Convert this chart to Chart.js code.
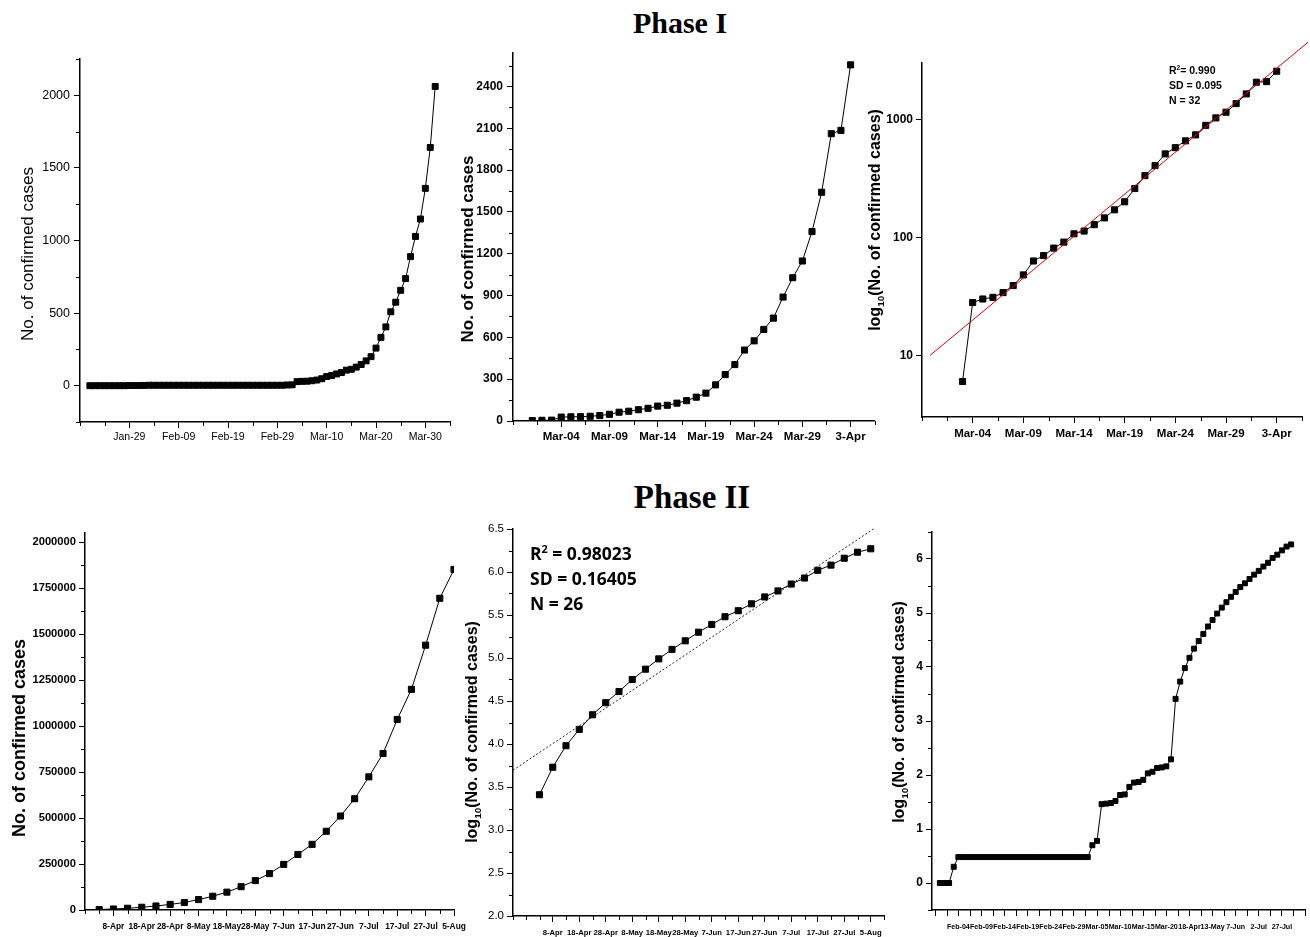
<!DOCTYPE html>
<html lang="en">
<head>
<meta charset="UTF-8">
<title>Confirmed cases - Phase I and Phase II</title>
<script src="https://cdn.jsdelivr.net/npm/chart.js"></script>
<style>
  body { margin: 0; background: #fff; }
  #page { position: relative; width: 1310px; height: 937px; overflow: hidden; background: #fff; }
  #page canvas { position: absolute; }
  .phase {
    position: absolute; width: 200px; text-align: center;
    font-family: 'Liberation Serif', 'Times New Roman', serif;
    font-weight: bold; white-space: nowrap;
  }
</style>
</head>
<body>
<div id="page">
  <div class="phase" style="left:580px; top:8px; font-size:30px; line-height:30px;">Phase I</div>
  <div class="phase" style="left:592px; top:481px; font-size:33px; line-height:33px;">Phase II</div>
  <canvas id="p1" width="458" height="415" style="left:0px; top:45px;"></canvas>
  <canvas id="p2" width="425" height="420" style="left:455px; top:40px;"></canvas>
  <canvas id="p3" width="450" height="432" style="left:860px; top:28px;"></canvas>
  <canvas id="p4" width="470" height="422" style="left:0px; top:515px;"></canvas>
  <canvas id="p5" width="442" height="422" style="left:458px; top:515px;"></canvas>
  <canvas id="p6" width="430" height="422" style="left:880px; top:515px;"></canvas>
</div>
<script>
// ---- data ----

// Phase I, daily totals 22 Jan .. 1 Apr (top-left panel), first point sits on day 2 of the axis
const janFirstDay = 2;
const janCases = [
  0, 0, 0, 0, 0, 0, 0, 0, 1, 1, 1, 2,
  3, 3, 3, 3, 3, 3, 3, 3, 3, 3, 3, 3, 3, 3, 3, 3, 3, 3, 3, 3, 3, 3, 3, 3, 3, 3, 3, 3,
  5, 6, 28, 30, 31, 34, 39, 48, 63, 70, 81, 91, 107, 113, 128, 146, 171, 200,
  259, 333, 405, 509, 575, 657, 738, 889, 1028, 1148, 1359, 1641, 2061
];
const janTicks = [10, 20, 30, 40, 50, 60, 70];
const janTickLabels = ['Jan-29', 'Feb-09', 'Feb-19', 'Feb-29', 'Mar-10', 'Mar-20', 'Mar-30'];

// Phase I, daily totals 1 Mar .. 3 Apr (top-middle); the log panel uses 3 Mar .. 3 Apr
const marFirstDay = -2;
const marCases = [
  3, 5, 6, 28, 30, 31, 34, 39, 48, 63, 70, 81, 91, 107, 113, 128, 146, 171, 200,
  259, 333, 405, 509, 575, 657, 738, 889, 1028, 1148, 1359, 1641, 2061, 2085, 2555
];
const marTicks = [1, 6, 11, 16, 21, 26, 31];
const marTickLabels = ['Mar-04', 'Mar-09', 'Mar-14', 'Mar-19', 'Mar-24', 'Mar-29', '3-Apr'];
const logSkip = 2;                    // log panel starts on 3 Mar (N = 32)
const phase1FitX = [-3.2, 34.1];      // red fitted line ends
const phase1FitY = [10, 4500];

// Phase II, every 5 days 3 Apr .. 5 Aug
const aprDays = [5, 10, 15, 20, 25, 30, 35, 40, 45, 50, 55, 60, 65, 70, 75, 80, 85, 90, 95, 100, 105, 110, 115, 120, 125, 130];
const aprCases = [
  2600, 5400, 9400, 14900, 21800, 30400, 40800, 56800, 74800, 97000, 126800, 160000, 198000,
  248000, 302000, 357000, 428000, 511000, 605000, 724000, 851000, 1036000, 1200000, 1440000, 1695000, 1852000
];
const aprLog = [
  3.41, 3.73, 3.98, 4.17, 4.34, 4.48, 4.61, 4.75, 4.87, 4.99, 5.10, 5.20, 5.30,
  5.39, 5.48, 5.55, 5.63, 5.71, 5.78, 5.86, 5.93, 6.02, 6.08, 6.16, 6.23, 6.27
];
const aprTicks = [10, 20, 30, 40, 50, 60, 70, 80, 90, 100, 110, 120, 130];
const aprTickLabels = ['8-Apr', '18-Apr', '28-Apr', '8-May', '18-May', '28-May', '7-Jun', '17-Jun', '27-Jun', '7-Jul', '17-Jul', '27-Jul', '5-Aug'];
const phase2FitX = [-5, 131];         // dotted fitted line ends
const phase2FitY = [3.695, 6.5];

// whole period on one log axis (bottom-right), one point per row
const allLog = [
  0, 0, 0, 0.30,
  0.48, 0.48, 0.48, 0.48, 0.48, 0.48, 0.48, 0.48, 0.48, 0.48, 0.48, 0.48, 0.48, 0.48, 0.48,
  0.48, 0.48, 0.48, 0.48, 0.48, 0.48, 0.48, 0.48, 0.48, 0.48, 0.48, 0.48, 0.48, 0.48,
  0.70, 0.78,
  1.46, 1.47, 1.48, 1.52, 1.63, 1.64, 1.78, 1.86, 1.87, 1.91, 2.03, 2.06, 2.13, 2.14, 2.16, 2.29,
  3.41, 3.73, 3.98, 4.17, 4.34, 4.48, 4.61, 4.75, 4.87, 4.99, 5.10, 5.20, 5.30,
  5.39, 5.48, 5.55, 5.63, 5.71, 5.78, 5.86, 5.93, 6.02, 6.08, 6.16, 6.23, 6.27
];
const allTicks = [4, 9, 14, 19, 24, 29, 34, 39, 44, 49, 54, 59, 64, 69, 74];
const allTickLabels = ['Feb-04', 'Feb-09', 'Feb-14', 'Feb-19', 'Feb-24', 'Feb-29', 'Mar-05', 'Mar-10',
  'Mar-15', 'Mar-20', '18-Apr', '13-May', '7-Jun', '2-Jul', '27-Jul'];

// ---- helpers ----
// no narrow face installed, so tick fonts are sized down to the narrow widths
const SANS = "'Liberation Sans', Arial, sans-serif";

function steps(from, to, step) {
  const out = [];
  for (let k = 0; from + k * step <= to + 1e-9; k++) out.push(+(from + k * step).toFixed(6));
  return out;
}
function minus(list, majors) {
  return list.filter(v => !majors.some(m => Math.abs(m - v) < 1e-6));
}
function points(xs, ys) {
  return ys.map((y, i) => ({ x: xs[i], y: y }));
}
function seq(start, n) {
  const out = [];
  for (let i = 0; i < n; i++) out.push(start + i);
  return out;
}

// extra drawing per canvas: minor ticks and rich text (sub/superscripts)
const extras = {};

function drawRich(ctx, t, ox, oy) {
  const weight = t.bold ? 'bold ' : '';
  const fontFor = p => weight + ((p.sup || p.sub) ? t.size * 0.62 : t.size) + 'px ' + t.family;
  let total = 0;
  t.parts.forEach(p => { ctx.font = fontFor(p); total += ctx.measureText(p.t).width; });
  ctx.save();
  ctx.translate(t.x - ox, t.y - oy);
  if (t.rotate) ctx.rotate(-Math.PI / 2);
  ctx.fillStyle = '#000';
  ctx.textBaseline = 'alphabetic';
  let x = t.center ? -total / 2 : 0;
  t.parts.forEach(p => {
    ctx.font = fontFor(p);
    const dy = p.sup ? -t.size * 0.4 : (p.sub ? t.size * 0.22 : 0);
    ctx.fillText(p.t, x, dy);
    x += ctx.measureText(p.t).width;
  });
  ctx.restore();
}

Chart.register({
  id: 'originExtras',
  afterDraw(chart) {
    const ex = extras[chart.canvas.id];
    if (!ex) return;
    const ctx = chart.ctx, area = chart.chartArea;
    ctx.save();
    ctx.strokeStyle = '#000';
    ctx.lineWidth = 1;
    ctx.beginPath();
    ex.minorX.forEach(v => {
      const px = Math.round(chart.scales.x.getPixelForValue(v)) + 0.5;
      ctx.moveTo(px, area.bottom);
      ctx.lineTo(px, area.bottom + ex.minorLenX);
    });
    ex.minorY.forEach(v => {
      const py = Math.round(chart.scales.y.getPixelForValue(v)) + 0.5;
      ctx.moveTo(area.left, py);
      ctx.lineTo(area.left - ex.minorLenY, py);
    });
    ctx.stroke();
    ctx.restore();
    ex.texts.forEach(t => drawRich(ctx, t, chart.canvas.offsetLeft, chart.canvas.offsetTop));
  }
});

function axis(a, dir) {
  return {
    type: a.type || 'linear',
    position: dir === 'x' ? 'bottom' : 'left',
    min: a.min, max: a.max, bounds: 'data',
    grid: { drawOnChartArea: false, drawTicks: true, tickLength: 6, tickWidth: 1, tickColor: '#000', color: '#000' },
    border: { display: true, color: '#000', width: 1.5 },
    ticks: {
      autoSkip: false, maxRotation: 0, minRotation: 0, padding: a.pad, color: '#000', font: a.font,
      callback: (v, i) => a.labels[i]
    },
    afterBuildTicks: s => { s.ticks = a.major.map(v => ({ value: v })); },
    afterFit: s => {
      if (dir === 'x') s.height = a.size; else s.width = a.size;
      s.paddingLeft = s.paddingRight = s.paddingTop = s.paddingBottom = 0;
    }
  };
}

function dataLine(pts, r) {
  return {
    data: pts, borderColor: '#000', borderWidth: 1, tension: 0, fill: false,
    pointStyle: 'rect', pointRadius: r, pointBackgroundColor: '#000',
    pointBorderColor: '#000', pointBorderWidth: 1
  };
}
function fitLine(pts, color, dash) {
  return {
    data: pts, borderColor: color, borderWidth: 1, borderDash: dash, pointRadius: 0,
    tension: 0, fill: false, clip: false
  };
}

function panel(id, cfg) {
  extras[id] = { minorX: cfg.minorX, minorY: cfg.minorY, minorLenX: cfg.minorLenX || 4, minorLenY: cfg.minorLenY || 4, texts: cfg.texts };
  return new Chart(document.getElementById(id), {
    type: 'line',
    data: { datasets: cfg.datasets },
    options: {
      responsive: false, animation: false, events: [],
      layout: { padding: { left: 0, top: cfg.padTop, right: cfg.padRight, bottom: 0 } },
      plugins: { legend: { display: false }, tooltip: { enabled: false }, title: { display: false } },
      scales: { x: axis(cfg.x, 'x'), y: axis(cfg.y, 'y') }
    }
  });
}

function yTitle(x, y, size, bold, withLog) {
  const parts = withLog
    ? [{ t: 'log' }, { t: '10', sub: true }, { t: '(No. of confirmed cases)' }]
    : [{ t: 'No. of confirmed cases' }];
  return { parts: parts, x: x, y: y, size: size, bold: bold, family: SANS, rotate: true, center: true };
}

// ---- panel 1: Phase I linear, from 22 Jan ----
const p1YMajor = steps(0, 2000, 500);
panel('p1', {
  padTop: 14, padRight: 8,
  x: { min: 0, max: 75, major: janTicks, labels: janTickLabels, size: 38, pad: 3,
       font: { family: SANS, size: 10.5 } },
  y: { min: -250, max: 2250, major: p1YMajor, labels: p1YMajor.map(String), size: 80, pad: 4,
       font: { family: SANS, size: 12.5 } },
  minorX: minus(steps(0, 75, 5), janTicks),
  minorY: minus(steps(-250, 2250, 250), p1YMajor),
  texts: [yTitle(33, 254, 17, false, false)],
  datasets: [dataLine(points(seq(janFirstDay, janCases.length), janCases), 4.2)]
});

// ---- panel 2: Phase I linear, March ----
const p2YMajor = steps(0, 2400, 300);
panel('p2', {
  padTop: 13, padRight: 3,
  x: { min: -4, max: 33.5, major: marTicks, labels: marTickLabels, size: 39, pad: 3,
       font: { family: SANS, size: 11.5, weight: 'bold' } },
  y: { min: 0, max: 2640, major: p2YMajor, labels: p2YMajor.map(String), size: 58, pad: 4,
       font: { family: SANS, size: 12, weight: 'bold' } },
  minorX: minus(steps(-4, 33.5, 2.5), marTicks),
  minorY: minus(steps(0, 2550, 150), p2YMajor),
  texts: [yTitle(473, 249, 17, true, false)],
  datasets: [dataLine(points(seq(marFirstDay, marCases.length), marCases), 4.3)]
});

// ---- panel 3: Phase I log axis with fit ----
const p3YMajor = [10, 100, 1000];
const logCases = marCases.slice(logSkip);
const p3Note = (t, y) => ({ parts: t, x: 1169, y: y, size: 10.5, bold: true, family: SANS });
panel('p3', {
  padTop: 35, padRight: 8,
  x: { min: -4, max: 33.5, major: marTicks, labels: marTickLabels, size: 43, pad: 4,
       font: { family: SANS, size: 11.5, weight: 'bold' } },
  y: { type: 'logarithmic', min: 3, max: 3000, major: p3YMajor, labels: p3YMajor.map(String), size: 62, pad: 3,
       font: { family: SANS, size: 12, weight: 'bold' } },
  minorX: minus(steps(-4, 33.5, 2.5), marTicks),
  minorY: [],
  texts: [
    yTitle(880, 220, 16, true, true),
    p3Note([{ t: 'R' }, { t: '2', sup: true }, { t: '= 0.990' }], 74),
    p3Note([{ t: 'SD = 0.095' }], 89),
    p3Note([{ t: 'N = 32' }], 104)
  ],
  datasets: [
    fitLine(points(phase1FitX, phase1FitY), '#e00000', []),
    dataLine(points(seq(marFirstDay + logSkip, logCases.length), logCases), 4.3)
  ]
});

// ---- panel 4: Phase II linear ----
const p4YMajor = steps(0, 2000000, 250000);
panel('p4', {
  padTop: 18, padRight: 16,
  x: { min: 0, max: 130, major: aprTicks, labels: aprTickLabels, size: 27, pad: 6,
       font: { family: SANS, size: 8.4, weight: 'bold' } },
  y: { min: 0, max: 2050000, major: p4YMajor, labels: p4YMajor.map(String), size: 85, pad: 3,
       font: { family: SANS, size: 11.2, weight: 'bold' } },
  minorX: minus(steps(0, 130, 5), aprTicks),
  minorY: minus(steps(0, 2000000, 125000), p4YMajor),
  texts: [yTitle(25, 738, 18, true, false)],
  datasets: [dataLine(points(aprDays, aprCases), 4.3)]
});

// ---- panel 5: Phase II log10 values with fit ----
const p5YMajor = steps(2, 6.5, 0.5);
const p5Note = (t, y) => ({ parts: t, x: 530, y: y, size: 17.5, bold: true, family: "'Open Sans', " + SANS });
panel('p5', {
  padTop: 14, padRight: 16,
  x: { min: -5, max: 135, major: aprTicks, labels: aprTickLabels, size: 21, pad: 6,
       font: { family: SANS, size: 7.7, weight: 'bold' } },
  y: { min: 2, max: 6.5, major: p5YMajor, labels: p5YMajor.map(v => v.toFixed(1)), size: 55, pad: 3,
       font: { family: SANS, size: 11.5 } },
  minorX: minus(steps(-5, 135, 5), aprTicks),
  minorY: minus(steps(2, 6.5, 0.25), p5YMajor),
  texts: [
    yTitle(477, 732, 16, true, true),
    p5Note([{ t: 'R' }, { t: '2', sup: true }, { t: ' = 0.98023' }], 560),
    p5Note([{ t: 'SD = 0.16405' }], 585),
    p5Note([{ t: 'N = 26' }], 610)
  ],
  datasets: [
    fitLine(points(phase2FitX, phase2FitY), '#222', [2, 2]),
    dataLine(points(aprDays, aprLog), 4.3)
  ]
});

// ---- panel 6: whole period, log10 values ----
const p6YMajor = steps(0, 6, 1);
panel('p6', {
  padTop: 17, padRight: 5,
  x: { min: -1.7, max: 79, major: allTicks, labels: allTickLabels, size: 27, pad: 7,
       font: { family: SANS, size: 7.1, weight: 'bold' } },
  y: { min: -0.5, max: 6.5, major: p6YMajor, labels: p6YMajor.map(String), size: 52, pad: 3,
       font: { family: SANS, size: 12, weight: 'bold' } },
  minorX: minus(steps(-1, 79, 2.5), allTicks),
  minorY: minus(steps(-0.5, 6.5, 0.5), p6YMajor),
  minorLenX: 6,
  texts: [yTitle(904, 712, 16, true, true)],
  datasets: [dataLine(points(seq(0, allLog.length), allLog), 3.5)]
});
</script>
</body>
</html>
